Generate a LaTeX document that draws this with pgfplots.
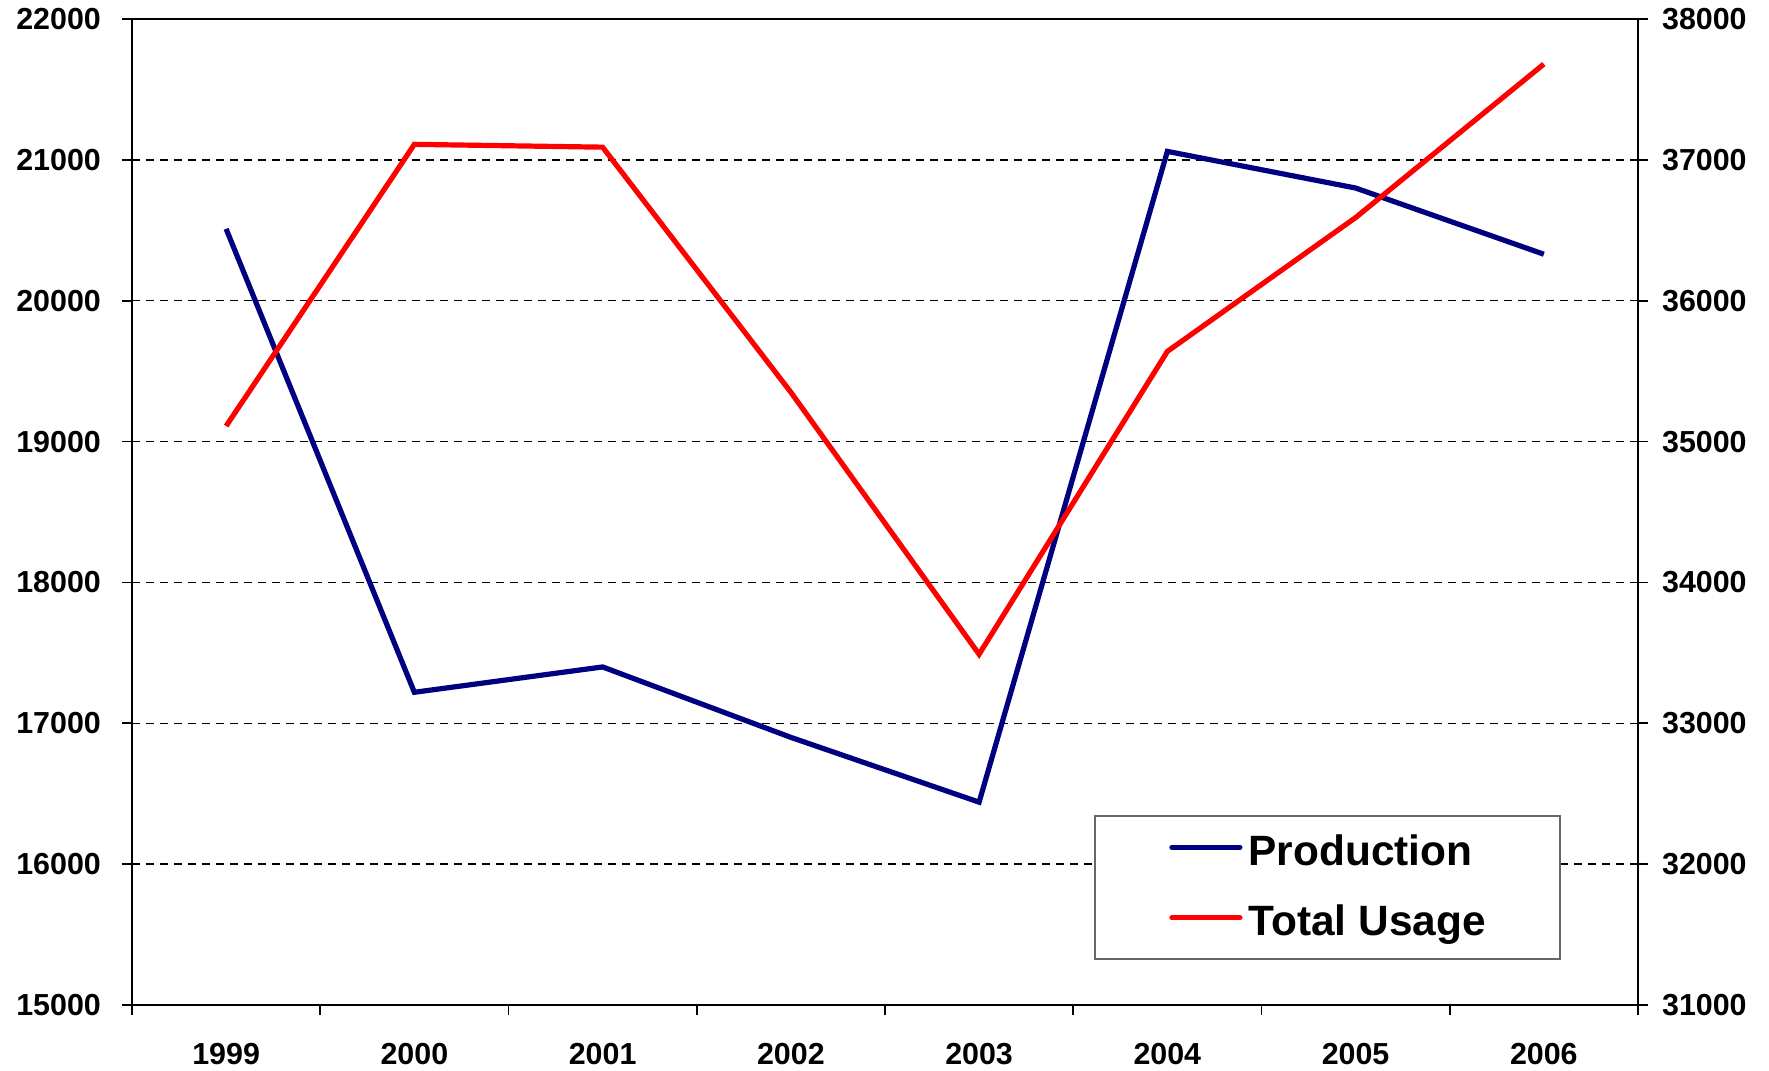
\documentclass[border=0pt]{standalone}
\usepackage{pgfplots}
\pgfplotsset{compat=1.18}
\usepackage{fontspec}
\setmainfont{Liberation Sans}
\definecolor{prodblue}{RGB}{0,0,128}
\definecolor{usered}{RGB}{255,0,0}
\pgfplotsset{
  common/.style={
    scale only axis, width=376.5pt, height=246.5pt,
    xmin=-0.5, xmax=7.5,
    tick align=outside,
    major tick length=2.5pt, minor tick length=2.5pt,
    tick style={black, line width=0.4pt},
    scaled y ticks=false,
    /pgf/number format/assume math mode=true,
    /pgf/number format/1000 sep={},
    ticklabel style={font=\fontsize{7.6}{9}\selectfont\bfseries},
  }
}
\begin{document}
\begin{tikzpicture}
\useasboundingbox (-33pt,-16.5pt) rectangle (409.25pt,251.25pt);
\begin{axis}[common,
  ymin=15000, ymax=22000,
  ytick={15000,16000,17000,18000,19000,20000,21000,22000},
  xtick={0,1,2,3,4,5,6,7},
  xticklabels={1999,2000,2001,2002,2003,2004,2005,2006},
  major x tick style={draw=none},
  minor xtick={-0.5,0.5,1.5,2.5,3.5,4.5,5.5,6.5,7.5},
  ymajorgrids,
  grid style={black, line width=0.35pt, dash pattern=on 2pt off 1.5pt},
  axis line style={black, line width=0.5pt},
  ytick pos=left, xtick pos=bottom,
  xticklabel style={yshift=-3.5pt},
  yticklabel style={xshift=-1.75pt},
]
\addplot[prodblue, line width=1.3pt] coordinates {
  (0,20510) (1,17220) (2,17400) (3,16900) (4,16440) (5,21060) (6,20800) (7,20330)
};
\end{axis}
\begin{axis}[common,
  ymin=31000, ymax=38000,
  ytick={31000,32000,33000,34000,35000,36000,37000,38000},
  axis y line*=right, axis x line=none,
  axis line style={black, line width=0.5pt},
  legend cell align=left,
  legend image code/.code={\draw[#1, line width=1.3pt, line cap=round] (0pt,1.25pt) -- (17pt,1.25pt);},
  legend style={at={(0.639,0.1927)}, anchor=north west, draw=black!60, fill=white,
    line width=0.5pt, inner xsep=18.5pt, inner ysep=4.3pt, row sep=8pt,
    font=\fontsize{10.6}{12.5}\selectfont\bfseries,
    nodes={inner sep=0pt, text height=8pt, text depth=1.6pt},
    /tikz/every odd column/.style={column sep=1.5pt}},
]
\addlegendimage{prodblue, line width=1.3pt}
\addlegendentry{Production}
\addplot[usered, line width=1.3pt] coordinates {
  (0,35110) (1,37110) (2,37090) (3,35350) (4,33490) (5,35640) (6,36590) (7,37680)
};
\addlegendentry{Total Usage}
\end{axis}
\end{tikzpicture}
\end{document}
